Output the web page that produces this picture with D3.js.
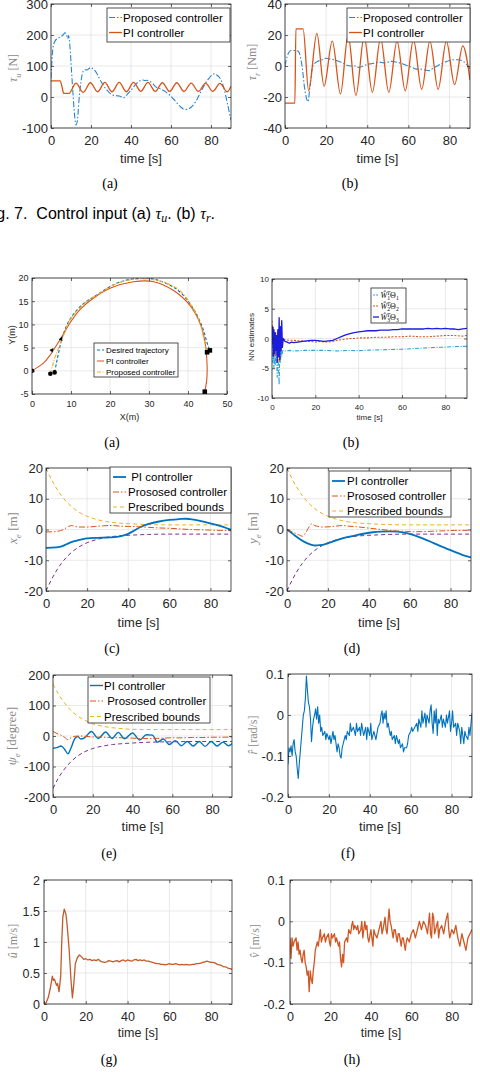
<!DOCTYPE html>
<html>
<head>
<meta charset="utf-8">
<script src="https://cdn.jsdelivr.net/npm/d3@7"></script>
<style>
body { margin: 0; background: #fff; }
svg { display: block; font-family: "Liberation Sans", Arial, sans-serif; }
text { white-space: pre; }
</style>
</head>
<body>
<script>
// ---- data ----
var timeTicks = [0, 20, 40, 60, 80];

// Fig 7 (a) tau_u
var tauuProposed = [[0,60],[0.5,120],[1,160],[2,180],[3,188],[4,192],[5,195],[6,200],[7,207],[7.8,200],[8.3,188],[8.8,198],[9.5,160],[10.3,80],[11,10],[11.8,-60],[12.6,-90],[13.3,-70],[14,-10],[15,50],[16,82],[17,88],[18,87],[19,92],[20,95],[21,90],[22,85],[23,75],[24,62],[25,50],[26,40],[27,30],[28,22],[29,15],[30,10],[31,6],[32,5],[33,4],[34,3],[35,1],[36,-3],[37,0],[38,8],[39,15],[40,22],[41,30],[42,38],[43,45],[44,50],[45,54],[46,55],[47,53],[48,54],[49,52],[50,48],[51,42],[52,35],[53,30],[54,28],[55,26],[56,22],[57,18],[58,13],[59,8],[60,2],[61,-5],[62,-12],[63,-20],[64,-27],[65,-33],[66,-38],[67,-40],[68,-40],[69,-38],[70,-33],[71,-27],[72,-18],[73,-8],[74,5],[75,18],[76,30],[77,42],[78,52],[79,60],[80,68],[81,73],[82,75],[83,70],[84,65],[85,55],[86,38],[87,15],[88,-15],[89,-45],[90,-75]];
var tauuPI = [[0,52],[4.6,52],[5.6,30],[6.3,12],[9,12],[12.5,45],[16.1,15],[19.7,46],[23.3,17],[26.9,47],[30.5,17],[34.1,47],[37.7,17],[41.3,47],[44.9,18],[48.5,47],[52.1,18],[55.7,46],[59.3,18],[62.9,46],[66.5,18],[70.1,45],[73.7,18],[77.3,45],[80.9,18],[84.5,44],[88.1,17],[90,35]];

// Fig 7 (b) tau_r
var taurProposed = [[0,0],[1,6],[2,9],[3,10],[5,10],[6.5,9.5],[7.5,6],[8.5,-2],[9.5,-14],[10.5,-21],[11.2,-23],[12,-15],[13,-3],[14,1],[16,3],[18,4],[20,5],[22,4.5],[24,4],[26,3],[28,2],[30,0.5],[32,0],[34,0],[36,-1],[38,0],[40,1],[42,1.5],[44,2],[46,2.5],[48,2],[50,2.5],[52,3],[54,2.5],[56,2],[58,1],[60,0],[62,-1],[64,-2],[66,-2],[68,-2.5],[70,-3],[72,-1.5],[74,0],[76,1.5],[78,2.5],[80,3.5],[82,4],[84,4],[86,3.5],[88,1.5],[90,-2]];
var taurPI = [[0,-24],[4.8,-24],[5.3,24],[8.8,24],[11.5,-16],[15.5,21],[19,-13],[23,16],[27,-18],[30.7,20],[34.5,-19],[38.5,19],[42.5,-17],[46.5,18],[50.5,-17],[54.5,16],[58.5,-16],[62.5,17],[66.5,-15],[70.5,16],[74.5,-15],[78.5,16],[82.5,-12],[86.5,13],[90,-9]];

// trajectory (X, Y in m)
var trajDesired = [[5.8,-0.35],[6.3,1.8],[6.8,3.8],[7.7,7],[9.4,10.6],[12.4,13.9],[16.7,16.4],[21.8,18.9],[27.8,20],[32,19.6],[37.2,17.5],[41,13.9],[43.6,9.6],[44.9,6],[45.6,4.4]];
var trajPI = [[0,0],[1.5,0.8],[3,1.7],[4.5,3.2],[5.6,4.6],[7.7,7.4],[9.8,10.4],[12.4,13.3],[15.8,15.7],[20,17.8],[26,19.2],[31.2,19.2],[36.3,17.3],[40.6,14],[43.2,10],[44.4,6],[44.9,1],[44.8,-2],[44.3,-4.5]];
var trajProposed = [[4.7,-0.65],[5.3,1.2],[6,3.1],[7.7,6.7],[9.8,11],[13.2,14.3],[17.5,16.8],[22.6,19.1],[27.8,19.8],[32.9,19.3],[37.6,17.5],[41,13.9],[43.2,9.9],[44.2,6.3],[44.9,4.2]];
var startDots = [[0,0],[4.7,-0.65],[5.8,-0.35]];
var endSquares = [[44.9,4.0],[45.6,4.4],[44.3,-4.5]];
var arrowHeads = [[5.5,4.9,1,1.3],[7.7,7.4,0.4,1]];

// NN estimates
var nn1 = [[0,-1],[0.3,-4],[0.6,-1],[0.9,-5],[1.2,-2],[1.5,-4.5],[1.8,-1],[2.1,-3],[2.4,-6.5],[2.7,-2],[3,-5],[3.3,-7.8],[3.6,-2],[3.9,-4],[4.2,-1.5],[4.5,-3],[5,-2],[6,-2.1],[8,-2],[10,-2.1],[15,-2],[20,-2],[25,-2],[30,-2.1],[35,-2],[40,-2.05],[45,-1.95],[50,-1.9],[55,-1.85],[60,-1.8],[65,-1.7],[70,-1.6],[75,-1.5],[80,-1.45],[85,-1.35],[90,-1.3]];
var nn2 = [[0,3],[0.3,-1],[0.6,2],[0.9,-2],[1.2,1],[1.5,-3],[1.8,0],[2.1,-2],[2.4,1],[2.7,-4],[3,-1],[3.3,-3],[3.6,-4],[3.9,-1],[4.2,-2],[4.5,0],[5,-0.3],[6,-0.2],[8,-0.3],[10,-0.3],[12,-0.4],[14,-0.4],[16,-0.5],[18,-0.5],[20,-0.6],[22,-0.5],[24,-0.6],[26,-0.6],[28,-0.5],[30,-0.3],[32,-0.2],[34,-0.1],[36,0],[38,0],[40,0.1],[44,0.1],[48,0.2],[52,0.2],[56,0.3],[60,0.3],[64,0.4],[68,0.3],[72,0.3],[76,0.4],[80,0.5],[84,0.5],[88,0.4],[90,0.5]];
var nn3 = [[0,-1],[0.3,2],[0.6,-3],[0.9,1.5],[1.2,-2.5],[1.5,1],[1.8,-2],[2.1,0.5],[2.4,-4],[2.7,1.5],[3,-3],[3.3,3.5],[3.6,-3.5],[3.9,2],[4.2,-2],[4.5,3],[4.8,-1.5],[5.2,0],[6,-0.5],[7,-0.6],[8,-0.8],[9,-0.6],[10,-0.7],[12,-0.6],[14,-0.5],[16,-0.4],[18,-0.3],[20,-0.3],[22,-0.4],[24,-0.5],[26,-0.4],[28,-0.3],[30,0],[32,0.3],[34,0.6],[36,0.8],[38,1],[40,1.1],[42,1.2],[44,1.3],[46,1.3],[48,1.3],[50,1.4],[52,1.4],[54,1.4],[56,1.5],[58,1.5],[60,1.6],[62,1.6],[64,1.6],[66,1.6],[68,1.6],[70,1.6],[72,1.7],[74,1.6],[76,1.7],[78,1.6],[80,1.7],[82,1.6],[84,1.6],[86,1.5],[88,1.6],[90,1.7]];

// x_e, y_e
var xePI = [[0,-6],[5,-5.8],[8,-5.4],[10,-4.8],[12,-4.2],[15,-3.6],[18,-3.1],[20,-2.9],[25,-2.7],[30,-2.6],[33,-2.5],[36,-2.2],[40,-1.4],[43,-0.3],[46,0.8],[50,1.8],[55,2.6],[60,3.1],[65,3.4],[68,3.5],[70,3.4],[75,2.8],[80,2.0],[85,1.1],[88,0.4],[90,-0.1]];
var xeProposed = [[0,-0.8],[4,-0.7],[7,-0.4],[9,0.2],[11,1],[12.5,1.3],[14,1],[16,0.8],[20,0.8],[24,1],[28,1.2],[32,1.3],[36,1.1],[40,1],[45,0.9],[50,0.7],[55,0.5],[60,0.4],[65,0.2],[70,0],[75,-0.1],[80,-0.2],[85,-0.3],[90,-0.4]];
var yePI = [[0,0],[3,-1.5],[6,-3],[9,-4.2],[12,-5],[14,-5.2],[16,-5.1],[18,-4.9],[20,-4.5],[23,-3.8],[26,-3.1],[30,-2.4],[34,-1.8],[38,-1.3],[42,-0.9],[46,-0.7],[50,-0.6],[54,-0.7],[58,-1.1],[62,-1.8],[66,-2.8],[70,-3.9],[74,-5.1],[78,-6.2],[82,-7.3],[86,-8.3],[90,-9.1]];
var yeProposed = [[0,0],[2,-0.6],[4,-1.2],[6,-1.8],[7.5,-2.2],[9,-1.2],[10.5,0.5],[12,1.8],[13.5,1.3],[15,1],[18,0.8],[21,0.9],[24,1.1],[27,1.3],[30,1.1],[34,0.9],[38,0.6],[42,0.3],[46,0],[50,-0.3],[54,-0.5],[58,-0.6],[62,-0.7],[66,-0.7],[70,-0.6],[74,-0.5],[78,-0.4],[82,-0.3],[86,-0.3],[90,-0.2]];
var posUpper = [[0,20],[2.5,16.5],[5,13.5],[7.5,11],[10,9],[12.5,7.4],[15,6.1],[17.5,5.1],[20,4.3],[25,3.2],[30,2.5],[35,2.1],[40,1.9],[50,1.6],[60,1.5],[70,1.5],[80,1.5],[90,1.5]];
var posLower = [[0,-20],[2.5,-16.5],[5,-13.5],[7.5,-11],[10,-9],[12.5,-7.4],[15,-6.1],[17.5,-5.1],[20,-4.3],[25,-3.2],[30,-2.5],[35,-2.1],[40,-1.9],[50,-1.6],[60,-1.5],[70,-1.5],[80,-1.5],[90,-1.5]];

// psi_e
var psiPI = [[0,-40],[2,-38],[4,-33],[6,-45],[7.5,-58],[9,-40],[11,-8],[12.5,-2],[14,-10],[16,-5],[19.3,15],[22.7,-8],[26.5,13],[29.7,-8],[32.8,12],[36,-9],[40,10],[43.5,-13],[47,4],[50,3],[52.5,-20],[55.5,-10],[58.5,-28],[61.5,-15],[64.5,-32],[67.5,-18],[70.5,-33],[73.5,-18],[76.5,-34],[79.5,-18],[82.5,-33],[85.5,-20],[88.3,-32],[90,-25]];
var psiProposed = [[0,15],[2,8],[4,3],[6,-5],[7.5,-12],[9,-6],[11,-1],[13,0],[16,-1],[20,-3],[25,-4],[30,-5],[35,-6],[40,-7],[45,-8],[50,-8],[55,-7],[60,-6],[65,-6],[70,-5],[75,-5],[80,-4],[85,-4],[90,-3]];
var psiUpper = [[0,170],[2.5,140],[5,115],[7.5,95],[10,78],[12.5,65],[15,55],[17.5,47],[20,40],[25,32],[30,27],[35,24],[40,22],[50,21],[60,21],[70,21],[80,21],[90,21]];
var psiLower = [[0,-172],[2.5,-140],[5,-115],[7.5,-95],[10,-78],[12.5,-65],[15,-55],[17.5,-47],[20,-41],[25,-33],[30,-28],[35,-25],[40,-23],[50,-20],[60,-19],[70,-18],[80,-18],[90,-18]];

// r hat, u hat, v hat
var rHat = [[0,-0.12],[0.5,-0.08],[1,-0.09],[1.5,-0.075],[2,-0.1],[2.5,-0.07],[3,-0.06],[3.5,-0.09],[4,-0.1],[4.5,-0.13],[5,-0.155],[5.5,-0.12],[6,-0.09],[6.5,-0.06],[7,-0.03],[7.5,0],[8,0.01],[8.5,0.04],[9,0.095],[9.5,0.06],[10,0.03],[10.5,0.02],[11,-0.01],[11.5,-0.065],[12,-0.03],[12.5,-0.01],[13,0],[13.5,0.015],[14,-0.01],[14.5,0.02],[15,-0.02],[15.5,0],[16,-0.04],[16.5,-0.03],[17,-0.05],[18,-0.04],[18.5,-0.06],[19,-0.045],[20,-0.06],[20.5,-0.05],[21,-0.07],[22,-0.04],[22.5,-0.06],[23,-0.05],[24,-0.09],[24.5,-0.07],[25,-0.08],[25.5,-0.1],[26,-0.105],[26.5,-0.08],[27,-0.07],[28,-0.05],[28.5,-0.06],[29,-0.04],[30,-0.05],[30.5,-0.02],[31,-0.04],[32,-0.03],[33,-0.05],[33.5,-0.02],[34,-0.04],[35,-0.03],[35.5,-0.05],[36,-0.02],[37,-0.05],[38,-0.03],[38.5,-0.06],[39,-0.03],[40,-0.05],[40.5,-0.02],[41,-0.06],[42,-0.04],[43,-0.06],[44,-0.03],[45,-0.02],[45.5,0],[46,0.01],[46.5,-0.02],[47,0.005],[47.5,-0.01],[48,0.01],[48.5,-0.03],[49,-0.02],[50,-0.05],[50.5,-0.04],[51,-0.06],[52,-0.05],[52.5,-0.07],[53,-0.05],[54,-0.07],[54.5,-0.06],[55,-0.08],[56,-0.07],[56.5,-0.09],[57,-0.08],[58,-0.08],[58.5,-0.07],[59,-0.05],[60,-0.04],[60.5,-0.03],[61,-0.04],[62,-0.03],[63,-0.02],[63.5,-0.04],[64,-0.01],[65,-0.03],[65.5,0.01],[66,-0.02],[67,0.005],[67.5,-0.03],[68,0],[69,-0.02],[69.5,0.01],[70,0.025],[70.5,-0.02],[71,-0.045],[71.5,0.01],[72,-0.02],[72.5,0.015],[73,-0.05],[73.5,-0.01],[74,-0.02],[75,0],[75.5,-0.03],[76,-0.01],[77,-0.03],[77.5,0],[78,-0.02],[79,0.01],[79.5,-0.04],[80,-0.02],[80.5,0.01],[81,-0.03],[82,-0.02],[82.5,-0.05],[83,-0.02],[84,-0.04],[84.5,-0.07],[85,-0.03],[86,-0.07],[86.5,-0.04],[87,-0.05],[88,-0.06],[88.5,-0.03],[89,-0.05],[89.5,-0.02],[90,0.005]];
var uHat = [[0,0],[1,0.02],[2,0.1],[3,0.25],[4,0.45],[4.5,0.38],[5,0.4],[6,0.3],[6.5,0.33],[7.2,0.2],[8,0.45],[8.5,1.0],[9,1.4],[9.7,1.53],[10.5,1.45],[11,1.3],[12,0.9],[13,0.35],[13.6,0.1],[14.2,0.3],[15,0.65],[16,0.75],[17,0.79],[18,0.76],[19,0.72],[20,0.73],[21,0.71],[22,0.72],[23,0.7],[24,0.71],[25,0.7],[26,0.72],[27,0.69],[28,0.68],[29,0.67],[30,0.68],[31,0.7],[32,0.69],[33,0.68],[34,0.69],[35,0.7],[36,0.68],[37,0.7],[38,0.71],[39,0.69],[40,0.71],[41,0.7],[42,0.69],[43,0.71],[44,0.72],[45,0.7],[46,0.71],[47,0.7],[48,0.71],[49,0.69],[50,0.69],[51,0.68],[52,0.67],[53,0.66],[54,0.65],[55,0.65],[56,0.64],[57,0.64],[58,0.63],[59,0.64],[60,0.65],[61,0.64],[62,0.64],[63,0.65],[64,0.64],[65,0.63],[66,0.64],[67,0.63],[68,0.64],[69,0.63],[70,0.63],[71,0.64],[72,0.64],[73,0.65],[74,0.65],[75,0.66],[76,0.67],[77,0.68],[78,0.69],[79,0.68],[80,0.67],[81,0.67],[82,0.66],[83,0.64],[84,0.63],[85,0.62],[86,0.6],[87,0.6],[88,0.58],[89,0.57],[90,0.56]];
var vHat = [[0,-0.04],[0.5,-0.09],[1,-0.04],[1.5,-0.06],[2,-0.05],[3,-0.04],[3.5,-0.07],[4,-0.05],[4.5,-0.08],[5,-0.07],[5.5,-0.09],[6,-0.1],[6.5,-0.08],[7,-0.07],[7.5,-0.1],[8,-0.11],[8.5,-0.13],[9,-0.12],[9.5,-0.17],[10,-0.12],[10.5,-0.14],[11,-0.15],[11.5,-0.12],[12,-0.1],[12.5,-0.07],[13,-0.06],[13.5,-0.05],[14,-0.06],[14.5,-0.04],[15,-0.02],[15.5,-0.05],[16,-0.04],[17,-0.03],[17.5,-0.05],[18,-0.04],[19,-0.03],[19.5,-0.05],[20,-0.06],[20.5,-0.03],[21,-0.04],[22,-0.03],[22.5,-0.05],[23,-0.04],[24,-0.06],[24.5,-0.05],[25,-0.09],[25.5,-0.11],[26,-0.08],[26.5,-0.1],[27,-0.05],[28,-0.04],[28.5,-0.05],[29,-0.02],[30,-0.03],[30.5,-0.01],[31,0],[31.5,-0.02],[32,-0.01],[33,-0.02],[33.5,-0.01],[34,-0.03],[35,-0.02],[35.5,0],[36,-0.04],[37,0],[37.5,-0.02],[38,-0.01],[38.5,-0.04],[39,-0.05],[40,-0.02],[40.5,-0.04],[41,-0.06],[41.5,-0.02],[42,-0.03],[43,-0.04],[44,-0.02],[45,0],[45.5,-0.03],[46,-0.02],[47,0.01],[47.5,-0.02],[48,-0.03],[49,0.03],[49.5,0],[50,-0.01],[51,-0.04],[51.5,-0.02],[52,-0.02],[53,-0.05],[53.5,-0.03],[54,-0.03],[55,-0.06],[55.5,-0.04],[56,-0.04],[57,-0.07],[57.5,-0.05],[58,-0.04],[59,-0.05],[60,-0.03],[61,-0.02],[62,-0.04],[63,-0.02],[64,0],[65,-0.02],[66,0],[67,-0.01],[68,-0.03],[69,0.02],[69.5,-0.03],[70,-0.04],[70.5,0.02],[71,0.01],[71.5,-0.03],[72,-0.02],[73,0],[73.5,-0.04],[74,-0.02],[75,-0.01],[76,-0.03],[77,0],[78,0.02],[78.5,-0.02],[79,-0.04],[80,-0.02],[81,-0.03],[82,-0.01],[83,-0.04],[84,-0.06],[85,-0.03],[86,-0.05],[87,-0.07],[88,-0.04],[89,-0.03],[90,-0.02]];

// ---- drawing ----
var BLUE = "#0072BD", ORANGE = "#D95319", YELLOW = "#EDB120", PURPLE = "#7E2F8E";
var SERIF = "'Liberation Serif','DejaVu Serif',serif";
var clipCount = 0;

var svg = d3.select("body").append("svg")
	.attr("width", 480)
	.attr("height", 1072);

// text made of plain / italic / sub / sup pieces
function richText(sel, parts, fs) {
	var cur = 0;
	parts.forEach(function(p) {
		var target = p.sub ? fs * 0.3 : (p.sup ? -fs * 0.4 : 0);
		var ts = sel.append("tspan").text(p.t).attr("dy", target - cur);
		if (p.dx) ts.attr("dx", p.dx);
		if (p.it) ts.attr("font-style", "italic");
		if (p.sub || p.sup) ts.attr("font-size", fs * 0.7);
		cur = target;
	});
}

function drawPanel(c) {
	var x = d3.scaleLinear().domain(c.xd).range([c.L, c.R]);
	var y = d3.scaleLinear().domain(c.yd).range([c.B, c.T]);
	var g = svg.append("g");
	var fs = c.fs || 13;

	// grid
	g.selectAll(null).data(c.xt).enter().append("line")
		.attr("x1", function(d) { return x(d); })
		.attr("x2", function(d) { return x(d); })
		.attr("y1", c.T).attr("y2", c.B)
		.attr("stroke", "#e3e3e3").attr("stroke-width", 0.8);
	g.selectAll(null).data(c.yt).enter().append("line")
		.attr("y1", function(d) { return y(d); })
		.attr("y2", function(d) { return y(d); })
		.attr("x1", c.L).attr("x2", c.R)
		.attr("stroke", "#e3e3e3").attr("stroke-width", 0.8);

	// series
	var id = "clip" + (clipCount++);
	svg.append("clipPath").attr("id", id).append("rect")
		.attr("x", c.L).attr("y", c.T).attr("width", c.R - c.L).attr("height", c.B - c.T);
	var lg = g.append("g").attr("clip-path", "url(#" + id + ")");
	c.series.forEach(function(s) {
		lg.append("path")
			.datum(s.data)
			.attr("d", d3.line()
				.x(function(d) { return x(d[0]); })
				.y(function(d) { return y(d[1]); })
				.curve(s.curve || d3.curveLinear))
			.attr("fill", "none")
			.attr("stroke", s.color)
			.attr("stroke-width", s.width || 1)
			.attr("stroke-dasharray", s.dash || null)
			.attr("stroke-linejoin", "round");
	});
	if (c.extra) c.extra(lg, x, y);

	// axes
	var fmt = c.fmt || function(d) { return String(d); };
	g.append("g").attr("transform", "translate(0," + c.B + ")")
		.call(d3.axisBottom(x).tickValues(c.xt).tickSize(-3).tickPadding(c.xpad).tickFormat(fmt));
	g.append("g").attr("transform", "translate(" + c.L + ",0)")
		.call(d3.axisLeft(y).tickValues(c.yt).tickSize(-3).tickPadding(c.ypad).tickFormat(fmt));
	g.append("g").attr("transform", "translate(0," + c.T + ")")
		.call(d3.axisTop(x).tickValues(c.xt).tickSize(-3).tickFormat(""));
	g.append("g").attr("transform", "translate(" + c.R + ",0)")
		.call(d3.axisRight(y).tickValues(c.yt).tickSize(-3).tickFormat(""));
	g.selectAll(".domain").remove();
	g.selectAll(".tick line").attr("stroke", "#262626").attr("stroke-width", 0.7);
	g.selectAll(".tick text").attr("fill", "#262626")
		.attr("font-family", "'Liberation Sans', Arial, sans-serif")
		.attr("font-size", fs);

	g.append("rect")
		.attr("x", c.L).attr("y", c.T)
		.attr("width", c.R - c.L).attr("height", c.B - c.T)
		.attr("fill", "none").attr("stroke", "#262626").attr("stroke-width", 0.8);

	// x label
	g.append("text")
		.attr("x", (c.L + c.R) / 2).attr("y", c.xlabY)
		.attr("text-anchor", "middle")
		.attr("font-size", c.xlabFs || fs)
		.attr("fill", "#262626")
		.text(c.xlab);

	// y label
	var yl = g.append("text")
		.attr("transform", "translate(" + c.ylab.x + "," + c.ylab.y + ") rotate(-90)")
		.attr("text-anchor", "middle")
		.attr("font-size", c.ylab.fs)
		.attr("font-family", c.ylab.serif ? SERIF : null)
		.attr("fill", c.ylab.color || "#8a8a8a");
	richText(yl, c.ylab.parts, c.ylab.fs);

	// legend
	if (c.legend) {
		var L = c.legend;
		g.append("rect")
			.attr("x", L.x).attr("y", L.y).attr("width", L.w).attr("height", L.h)
			.attr("fill", "#fff").attr("stroke", "#262626").attr("stroke-width", 0.8);
		L.items.forEach(function(it, i) {
			var cy = L.y + L.first + i * L.step;
			g.append("line")
				.attr("x1", L.x + L.l1).attr("x2", L.x + L.l2)
				.attr("y1", cy).attr("y2", cy)
				.attr("stroke", it.color).attr("stroke-width", it.width || 1)
				.attr("stroke-dasharray", it.dash || null);
			var t = g.append("text")
				.attr("x", L.x + L.tx).attr("y", cy + L.fs * 0.35)
				.attr("font-size", L.fs)
				.attr("fill", "#000");
			if (it.parts) {
				t.attr("font-family", SERIF);
				richText(t, it.parts, L.fs);
			} else {
				t.text(it.label);
			}
		});
	}

	// sub caption
	svg.append("text")
		.attr("x", c.capX).attr("y", c.capY)
		.attr("text-anchor", "middle")
		.attr("font-family", SERIF)
		.attr("font-size", 14)
		.text(c.cap);
}

var smooth = d3.curveMonotoneX;
var dashDot = "6,2,1.5,2";
var dashed = "4,3";

// (a) tau_u
drawPanel({
	L: 51, R: 231, T: 4, B: 128, xd: [0, 90], yd: [-100, 300],
	xt: timeTicks, yt: [-100, 0, 100, 200, 300], xpad: 8, ypad: 3,
	series: [
		{ data: tauuProposed, color: "#2a86cc", dash: dashDot, width: 1.1, curve: smooth },
		{ data: tauuPI, color: ORANGE, width: 1.3, curve: smooth }
	],
	xlab: "time [s]", xlabY: 163,
	ylab: { x: 17, y: 68, fs: 12, serif: true, parts: [{ t: "τ", it: true }, { t: "u", it: true, sub: true }, { t: " [N]" }] },
	legend: { x: 107, y: 8, w: 123, h: 34, first: 9.5, step: 15, l1: 2, l2: 15, tx: 16, fs: 11.5,
		items: [{ label: "Proposed controller", color: "#2a86cc", dash: dashDot }, { label: "PI controller", color: ORANGE, width: 1.3 }] },
	cap: "(a)", capX: 110, capY: 188
});

// (b) tau_r
drawPanel({
	L: 285, R: 470, T: 4, B: 128, xd: [0, 90], yd: [-40, 40],
	xt: timeTicks, yt: [-40, -20, 0, 20, 40], xpad: 8, ypad: 3,
	series: [
		{ data: taurProposed, color: "#2a86cc", dash: dashDot, width: 1.1, curve: smooth },
		{ data: taurPI, color: ORANGE, width: 1.3, curve: smooth }
	],
	xlab: "time [s]", xlabY: 163,
	ylab: { x: 256, y: 62, fs: 12, serif: true, parts: [{ t: "τ", it: true }, { t: "r", it: true, sub: true }, { t: " [Nm]" }] },
	legend: { x: 347, y: 8, w: 123, h: 34, first: 9.5, step: 15, l1: 2, l2: 15, tx: 16, fs: 11.5,
		items: [{ label: "Proposed controller", color: "#2a86cc", dash: dashDot }, { label: "PI controller", color: ORANGE, width: 1.3 }] },
	cap: "(b)", capX: 350, capY: 188
});

// figure caption (left part cut by the page edge, as in the source)
var capText = svg.append("text")
	.attr("x", -17).attr("y", 219)
	.attr("font-size", 16)
	.attr("fill", "#000");
capText.append("tspan").text("Fig. 7.  Control input (a) ");
capText.append("tspan").attr("font-family", SERIF).attr("font-style", "italic").text("τ");
capText.append("tspan").attr("font-family", SERIF).attr("font-style", "italic").attr("font-size", 12).attr("dy", 3).text("u");
capText.append("tspan").attr("dy", -3).text(". (b) ");
capText.append("tspan").attr("font-family", SERIF).attr("font-style", "italic").text("τ");
capText.append("tspan").attr("font-family", SERIF).attr("font-style", "italic").attr("font-size", 12).attr("dy", 3).text("r");
capText.append("tspan").attr("dy", -3).text(".");

// trajectory
drawPanel({
	L: 32, R: 227, T: 278, B: 394, xd: [0, 50], yd: [-5, 20], fs: 9,
	xt: [0, 10, 20, 30, 40, 50], yt: [-5, 0, 5, 10, 15, 20], xpad: 7, ypad: 3.5,
	series: [
		{ data: trajDesired, color: BLUE, dash: "3,2", width: 1.1, curve: d3.curveCatmullRom },
		{ data: trajPI, color: ORANGE, width: 1.1, curve: d3.curveCatmullRom },
		{ data: trajProposed, color: YELLOW, dash: "4,1.5,1,1.5", width: 1.1, curve: d3.curveCatmullRom }
	],
	extra: function(lg, x, y) {
		lg.selectAll(null).data(startDots).enter().append("circle")
			.attr("cx", function(d) { return x(d[0]); })
			.attr("cy", function(d) { return y(d[1]); })
			.attr("r", 2.3).attr("fill", "#000");
		lg.selectAll(null).data(endSquares).enter().append("rect")
			.attr("x", function(d) { return x(d[0]) - 2.3; })
			.attr("y", function(d) { return y(d[1]) - 2.3; })
			.attr("width", 4.6).attr("height", 4.6).attr("fill", "#000");
		lg.selectAll(null).data(arrowHeads).enter().append("path")
			.attr("d", "M0,0 L-4,-2 L-4,2 Z")
			.attr("fill", "#000")
			.attr("transform", function(d) {
				var a = Math.atan2(-d[3], d[2]) * 180 / Math.PI;
				return "translate(" + x(d[0]) + "," + y(d[1]) + ") rotate(" + a + ")";
			});
	},
	xlab: "X(m)", xlabY: 420, xlabFs: 9,
	ylab: { x: 15, y: 335, fs: 9, color: "#262626", parts: [{ t: "Y(m)" }] },
	legend: { x: 94, y: 343, w: 84, h: 34, first: 7, step: 11, l1: 3, l2: 10, tx: 12, fs: 8,
		items: [{ label: "Desired trajectory", color: BLUE, dash: "3,2" }, { label: "PI controller", color: ORANGE }, { label: "Proposed controller", color: YELLOW, dash: "4,1.5,1,1.5" }] },
	cap: "(a)", capX: 112, capY: 447
});

// NN estimates
drawPanel({
	L: 272, R: 467, T: 279, B: 398, xd: [0, 90], yd: [-10, 10], fs: 8,
	xt: timeTicks, yt: [-10, -5, 0, 5, 10], xpad: 6, ypad: 3,
	series: [
		{ data: nn1, color: "#2aa7d8", dash: "4,1.5,1,1.5", width: 1.1 },
		{ data: nn2, color: ORANGE, dash: "2,1.5", width: 1.1 },
		{ data: nn3, color: "#1c1cdc", width: 1.3 }
	],
	xlab: "time [s]", xlabY: 420, xlabFs: 8,
	ylab: { x: 254, y: 337, fs: 8, color: "#262626", parts: [{ t: "NN estimates" }] },
	legend: { x: 371, y: 288, w: 35, h: 35, first: 7, step: 11, l1: 2, l2: 8, tx: 9.5, fs: 8,
		items: [
			{ color: "#2aa7d8", dash: "2,1", parts: [{ t: "Ŵ", it: true }, { t: "1", sub: true }, { t: "T", it: true, sup: true, dx: -3 }, { t: "Θ" }, { t: "1", sub: true }] },
			{ color: ORANGE, dash: "2,1", parts: [{ t: "Ŵ", it: true }, { t: "2", sub: true }, { t: "T", it: true, sup: true, dx: -3 }, { t: "Θ" }, { t: "2", sub: true }] },
			{ color: "#1c1cdc", width: 1.3, parts: [{ t: "Ŵ", it: true }, { t: "3", sub: true }, { t: "T", it: true, sup: true, dx: -3 }, { t: "Θ" }, { t: "3", sub: true }] }
		] },
	cap: "(b)", capX: 351, capY: 447
});

var boundItems = [
	{ label: " PI controller", color: BLUE, width: 1.8 },
	{ label: "Prososed controller", color: ORANGE, dash: dashDot },
	{ label: "Prescribed bounds", color: YELLOW, dash: dashed }
];

// (c) x_e
drawPanel({
	L: 46, R: 231, T: 468, B: 591, xd: [0, 90], yd: [-20, 20],
	xt: timeTicks, yt: [-20, -10, 0, 10, 20], xpad: 8, ypad: 3,
	series: [
		{ data: posUpper, color: YELLOW, dash: dashed, curve: smooth },
		{ data: posLower, color: PURPLE, dash: dashed, curve: smooth },
		{ data: xePI, color: BLUE, width: 1.8, curve: smooth },
		{ data: xeProposed, color: ORANGE, dash: dashDot, curve: smooth }
	],
	xlab: "time [s]", xlabY: 627,
	ylab: { x: 17, y: 528, fs: 13, serif: true, parts: [{ t: "x", it: true }, { t: "e", it: true, sub: true }, { t: " [m]" }] },
	legend: { x: 110, y: 467, w: 121, h: 46, first: 10, step: 15, l1: 3, l2: 16, tx: 18, fs: 11.5, items: boundItems },
	cap: "(c)", capX: 112, capY: 653
});

// (d) y_e
drawPanel({
	L: 287, R: 471, T: 468, B: 591, xd: [0, 90], yd: [-20, 20],
	xt: timeTicks, yt: [-20, -10, 0, 10, 20], xpad: 8, ypad: 3,
	series: [
		{ data: posUpper, color: YELLOW, dash: dashed, curve: smooth },
		{ data: posLower, color: PURPLE, dash: dashed, curve: smooth },
		{ data: yePI, color: BLUE, width: 1.8, curve: smooth },
		{ data: yeProposed, color: ORANGE, dash: dashDot, curve: smooth }
	],
	xlab: "time [s]", xlabY: 627,
	ylab: { x: 257, y: 528, fs: 13, serif: true, parts: [{ t: "y", it: true }, { t: "e", it: true, sub: true }, { t: " [m]" }] },
	legend: { x: 329, y: 471, w: 122, h: 46, first: 10, step: 15, l1: 3, l2: 16, tx: 18, fs: 11.5,
		items: [{ label: "PI controller", color: BLUE, width: 1.8 }, boundItems[1], boundItems[2]] },
	cap: "(d)", capX: 352, capY: 653
});

// (e) psi_e
drawPanel({
	L: 53, R: 232, T: 675, B: 797, xd: [0, 90], yd: [-200, 200],
	xt: timeTicks, yt: [-200, -100, 0, 100, 200], xpad: 8, ypad: 3,
	series: [
		{ data: psiUpper, color: YELLOW, dash: dashed, curve: smooth },
		{ data: psiLower, color: PURPLE, dash: dashed, curve: smooth },
		{ data: psiPI, color: BLUE, width: 1.4, curve: smooth },
		{ data: psiProposed, color: ORANGE, dash: dashDot, curve: smooth }
	],
	xlab: "time [s]", xlabY: 831,
	ylab: { x: 16, y: 736, fs: 13, serif: true, parts: [{ t: "ψ", it: true }, { t: "e", it: true, sub: true }, { t: " [degree]" }] },
	legend: { x: 88, y: 677, w: 122, h: 46, first: 8.5, step: 15.5, l1: 2, l2: 15, tx: 16, fs: 11.5,
		items: [{ label: "PI controller", color: BLUE, width: 1.4 }, { label: " Prososed controller", color: ORANGE, dash: dashDot }, boundItems[2]] },
	cap: "(e)", capX: 109, capY: 858
});

var fmt2 = function(d) { return String(+d.toFixed(2)); };

// (f) r hat
drawPanel({
	L: 288, R: 472, T: 674, B: 797, xd: [0, 90], yd: [-0.2, 0.1],
	xt: timeTicks, yt: [-0.2, -0.1, 0, 0.1], xpad: 8, ypad: 4, fmt: fmt2,
	series: [{ data: rHat, color: BLUE, width: 1.1 }],
	xlab: "time [s]", xlabY: 831,
	ylab: { x: 257, y: 735, fs: 12, serif: true, parts: [{ t: "r\u0302", it: true }, { t: " [rad/s]" }] },
	cap: "(f)", capX: 348, capY: 858
});

// (g) u hat
drawPanel({
	L: 44, R: 232, T: 880, B: 1004, xd: [0, 90], yd: [0, 2], fs: 12.5,
	xt: timeTicks, yt: [0, 0.5, 1, 1.5, 2], xpad: 8, ypad: 4, fmt: fmt2,
	series: [{ data: uHat, color: "#c45a2c", width: 1.3 }],
	xlab: "time [s]", xlabY: 1037,
	ylab: { x: 17, y: 941, fs: 12, serif: true, parts: [{ t: "u\u0302", it: true }, { t: " [m/s]" }] },
	cap: "(g)", capX: 109, capY: 1064
});

// (h) v hat
drawPanel({
	L: 290, R: 472, T: 880, B: 1004, xd: [0, 90], yd: [-0.2, 0.1], fs: 12.5,
	xt: timeTicks, yt: [-0.2, -0.1, 0, 0.1], xpad: 8, ypad: 5, fmt: fmt2,
	series: [{ data: vHat, color: "#cf5724", width: 1.3 }],
	xlab: "time [s]", xlabY: 1037,
	ylab: { x: 259, y: 941, fs: 12, serif: true, parts: [{ t: "v\u0302", it: true }, { t: " [m/s]" }] },
	cap: "(h)", capX: 352, capY: 1064
});
</script>
</body>
</html>
